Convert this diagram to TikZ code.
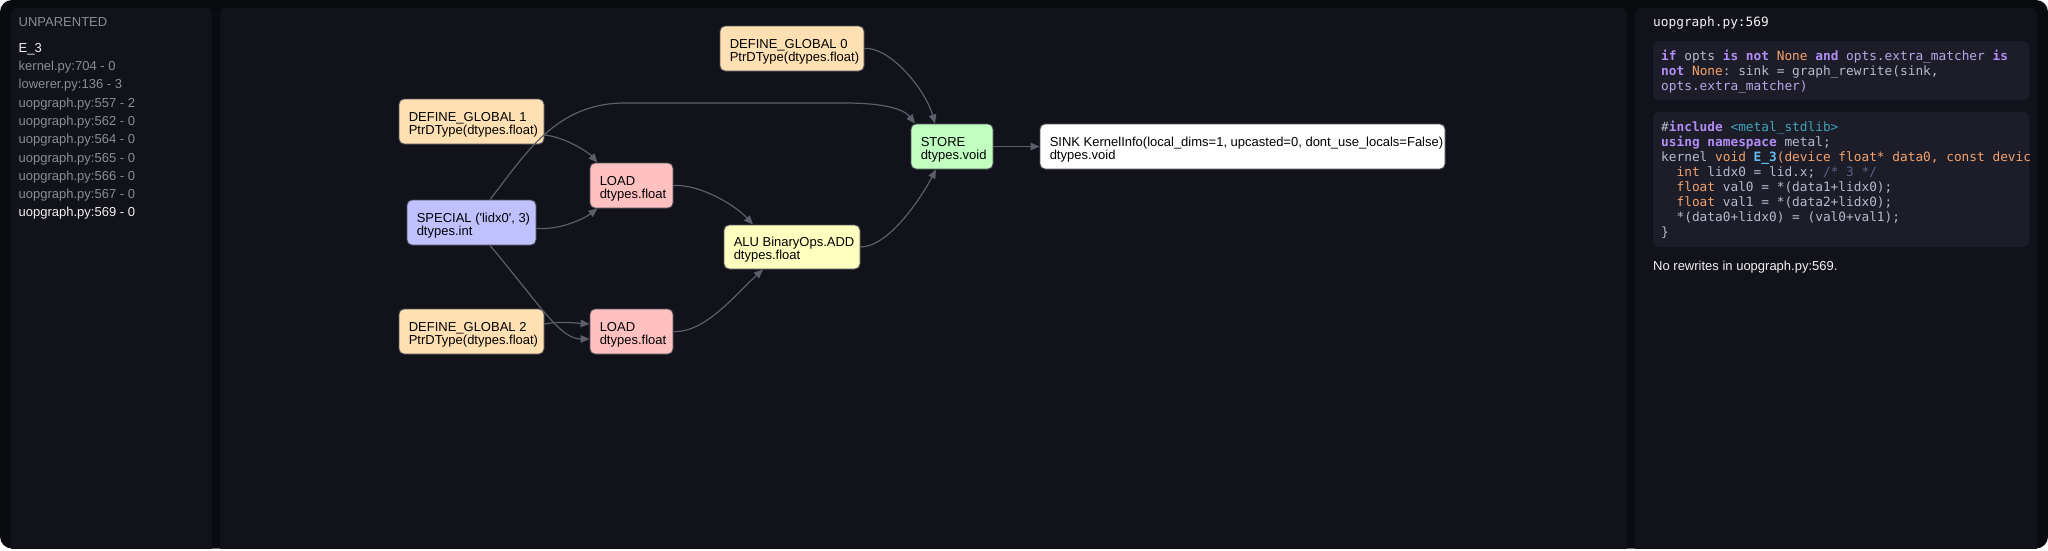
\documentclass[tikz,border=0pt]{standalone}
\usepackage{fontspec}
\usetikzlibrary{arrows.meta}
\newfontfamily\sansf{Liberation Sans}
\newfontfamily\codef{DejaVu Sans Mono}
\definecolor{outerbg}{HTML}{0A0B0F}
\definecolor{panelbg}{HTML}{11121A}
\definecolor{codebg}{HTML}{1C1D29}
\definecolor{sidegray}{HTML}{8A8C96}
\definecolor{sidewhite}{HTML}{F2F2F2}
\definecolor{nodeborder}{HTML}{50515A}
\definecolor{edgecol}{HTML}{5C5E69}
\definecolor{cpeach}{HTML}{FFE0B2}
\definecolor{cpink}{HTML}{FFC0C0}
\definecolor{clav}{HTML}{C0C0FF}
\definecolor{cyel}{HTML}{FFFFC0}
\definecolor{cgreen}{HTML}{C0FFC0}
\definecolor{ctx}{HTML}{B8BACB}
\definecolor{ckw}{HTML}{B28DF5}
\definecolor{cattr}{HTML}{B9A6E8}
\definecolor{corange}{HTML}{F4A26C}
\definecolor{cteal}{HTML}{3FA3B8}
\definecolor{cblue}{HTML}{61BDF2}
\definecolor{ccom}{HTML}{5D6584}
\newcommand\cKw[1]{\textcolor{ckw}{\bfseries #1}}
\newcommand\cAt[1]{\textcolor{cattr}{#1}}
\newcommand\cOr[1]{\textcolor{corange}{#1}}
\newcommand\cTe[1]{\textcolor{cteal}{#1}}
\newcommand\cBl[1]{\textcolor{cblue}{\bfseries #1}}
\newcommand\cCo[1]{\textcolor{ccom}{#1}}
\frenchspacing
\begin{document}
\begin{tikzpicture}[x=1pt,y=-1pt,
  panel/.style={fill=panelbg, rounded corners=6pt},
  codebox/.style={fill=codebg, rounded corners=6pt},
  gbox/.style={draw=nodeborder, line width=0.9pt, rounded corners=5pt, inner sep=0pt, minimum height=45pt},
  glabel/.style={anchor=north west, inner sep=0pt, align=left, font=\sansf\frenchspacing\fontsize{13}{13}\selectfont, text=black},
  edge/.style={draw=edgecol, line width=1.2pt, -{Triangle[length=9pt,width=7.5pt]}},
  side/.style={anchor=base west, inner sep=0pt, font=\sansf\frenchspacing\fontsize{13}{15}\selectfont, text=sidegray},
  code/.style={anchor=base west, inner sep=0pt, font=\codef\frenchspacing\fontsize{12.8}{15}\selectfont, text=ctx}]
\useasboundingbox (0,0) rectangle (2048,550);
\fill[white] (0,0) rectangle (2048,550);
\fill[outerbg, rounded corners=12pt] (0,0) rectangle (2048,548.5);
\begin{scope}
\clip (0,0) rectangle (2048,548.5);
\fill[panel] (11,7.5) rectangle (212,570);
\fill[panel] (220,7.5) rectangle (1627,570);
\fill[panel] (1635,7.5) rectangle (2037,570);
\end{scope}

% left panel
\node[side] (lpa) at (18.5,26.7) {UNPARENTED};
\node[side, text=sidewhite] (lpb) at (18.5,52.2) {E\_3};
\node[side] (lp1) at (18.5,70.5) {kernel.py:704 - 0};
\node[side] (lp2) at (18.5,88.8) {lowerer.py:136 - 3};
\node[side] (lp3) at (18.5,107.1) {uopgraph.py:557 - 2};
\node[side] (lp4) at (18.5,125.4) {uopgraph.py:562 - 0};
\node[side] (lp5) at (18.5,143.7) {uopgraph.py:564 - 0};
\node[side] (lp6) at (18.5,162.0) {uopgraph.py:565 - 0};
\node[side] (lp7) at (18.5,180.3) {uopgraph.py:566 - 0};
\node[side] (lp8) at (18.5,198.6) {uopgraph.py:567 - 0};
\node[side, text=sidewhite] (lp9) at (18.5,216.9) {uopgraph.py:569 - 0};

% graph nodes
\node[gbox, fill=cpeach, minimum width=144pt] (dg0) at (792,48.5) {};
\node[gbox, fill=cpeach, minimum width=145pt] (dg1) at (471.5,121.5) {};
\node[gbox, fill=cpeach, minimum width=145pt] (dg2) at (471.5,331.5) {};
\node[gbox, fill=clav, minimum width=129pt] (spec) at (471.5,222.5) {};
\node[gbox, fill=cpink, minimum width=83pt] (ld1) at (631.5,185.5) {};
\node[gbox, fill=cpink, minimum width=83pt] (ld2) at (631.5,331.5) {};
\node[gbox, fill=cyel, minimum width=136pt, minimum height=44pt] (alu) at (792,247) {};
\node[gbox, fill=cgreen, minimum width=82pt] (store) at (952,146.5) {};
\node[gbox, fill=white, minimum width=405pt] (sink) at (1242.5,146.5) {};

\node[glabel] (dg0l) at ([shift={(10,-10.5)}]dg0.west) {\rule{0pt}{10pt}DEFINE\_GLOBAL 0\\PtrDType(dtypes.float)};
\node[glabel] (dg1l) at ([shift={(10,-10.5)}]dg1.west) {\rule{0pt}{10pt}DEFINE\_GLOBAL 1\\PtrDType(dtypes.float)};
\node[glabel] (dg2l) at ([shift={(10,-10.5)}]dg2.west) {\rule{0pt}{10pt}DEFINE\_GLOBAL 2\\PtrDType(dtypes.float)};
\node[glabel] (specl) at ([shift={(10,-10.5)}]spec.west) {\rule{0pt}{10pt}SPECIAL ('lidx0', 3)\\dtypes.int};
\node[glabel] (ld1l) at ([shift={(10,-10.5)}]ld1.west) {\rule{0pt}{10pt}LOAD\\dtypes.float};
\node[glabel] (ld2l) at ([shift={(10,-10.5)}]ld2.west) {\rule{0pt}{10pt}LOAD\\dtypes.float};
\node[glabel] (alul) at ([shift={(10,-10.5)}]alu.west) {\rule{0pt}{10pt}ALU BinaryOps.ADD\\dtypes.float};
\node[glabel] (storel) at ([shift={(10,-10.5)}]store.west) {\rule{0pt}{10pt}STORE\\dtypes.void};
\node[glabel] (sinkl) at ([shift={(10,-10.5)}]sink.west) {\rule{0pt}{10pt}SINK KernelInfo(local\_dims=1, upcasted=0, dont\_use\_locals=False)\\dtypes.void};

% edges
\draw[edge] (dg0.east) .. controls +(25,-2) and +(-10,-35) .. ([shift={(-17,0)}]store.north);
\draw[edge] ([shift={(18.5,0)}]spec.north) .. controls (525,155) and (555,103) .. (625,103) -- (845,103) .. controls (880,103) and (903,108) .. ([shift={(-37,0)}]store.north);
\draw[edge] ([shift={(0,13.5)}]dg1.east) .. controls (565,137) and (588,152) .. ([shift={(-34,0)}]ld1.north);
\draw[edge] ([shift={(0,6)}]spec.east) .. controls (562,230) and (585,218) .. ([shift={(-34,0)}]ld1.south);
\draw[edge] ([shift={(18.5,0)}]spec.south) .. controls (540,305) and (560,339) .. ([shift={(0,7.5)}]ld2.west);
\draw[edge] ([shift={(0,-7.5)}]dg2.east) .. controls (560,321) and (575,323) .. ([shift={(0,-7.5)}]ld2.west);
\draw[edge] (ld1.east) .. controls (700,184) and (735,205) .. ([shift={(-39,0)}]alu.north);
\draw[edge] (ld2.east) .. controls (705,333) and (735,295) .. ([shift={(-29,0)}]alu.south);
\draw[edge] (alu.east) .. controls (888,247) and (920,200) .. ([shift={(-16,0)}]store.south);
\draw[edge] (store.east) -- (sink.west);

% right panel
\node[code, text=sidewhite] (hdr) at (1653,26.7) {uopgraph.py:569};
\fill[codebox] (1653,41) rectangle (2029,100);
\node[code] (py1) at (1661,60) {\cKw{if} opts \cKw{is} \cKw{not} \cOr{None} \cKw{and} \cAt{opts.extra\_matcher} \cKw{is}};
\node[code] (py2) at (1661,75) {\cKw{not} \cOr{None}: sink = graph\_rewrite(sink,};
\node[code] (py3) at (1661,90) {\cAt{opts.extra\_matcher)}};
\fill[codebox] (1653,112) rectangle (2029,247);
\begin{scope}
\clip (1653,112) rectangle (2029,247);
\node[code] (c1) at (1661,131) {\#\cKw{include} \cTe{<metal\_stdlib>}};
\node[code] (c2) at (1661,146) {\cKw{using} \cKw{namespace} metal;};
\node[code] (c3) at (1661,161) {kernel \cOr{void} \cBl{E\_3}\cOr{(device float* data0, const device}};
\node[code] (c4) at (1661,176) {\phantom{xx}\cOr{int} lidx0 = lid.x; \cCo{/* 3 */}};
\node[code] (c5) at (1661,191) {\phantom{xx}\cOr{float} val0 = *(data1+lidx0);};
\node[code] (c6) at (1661,206) {\phantom{xx}\cOr{float} val1 = *(data2+lidx0);};
\node[code] (c7) at (1661,221) {\phantom{xx}*(data0+lidx0) = (val0+val1);};
\node[code] (c8) at (1661,236) {\}};
\end{scope}
\node[side, text=sidewhite] (norw) at (1653,270) {No rewrites in uopgraph.py:569.};
\end{tikzpicture}
\end{document}
